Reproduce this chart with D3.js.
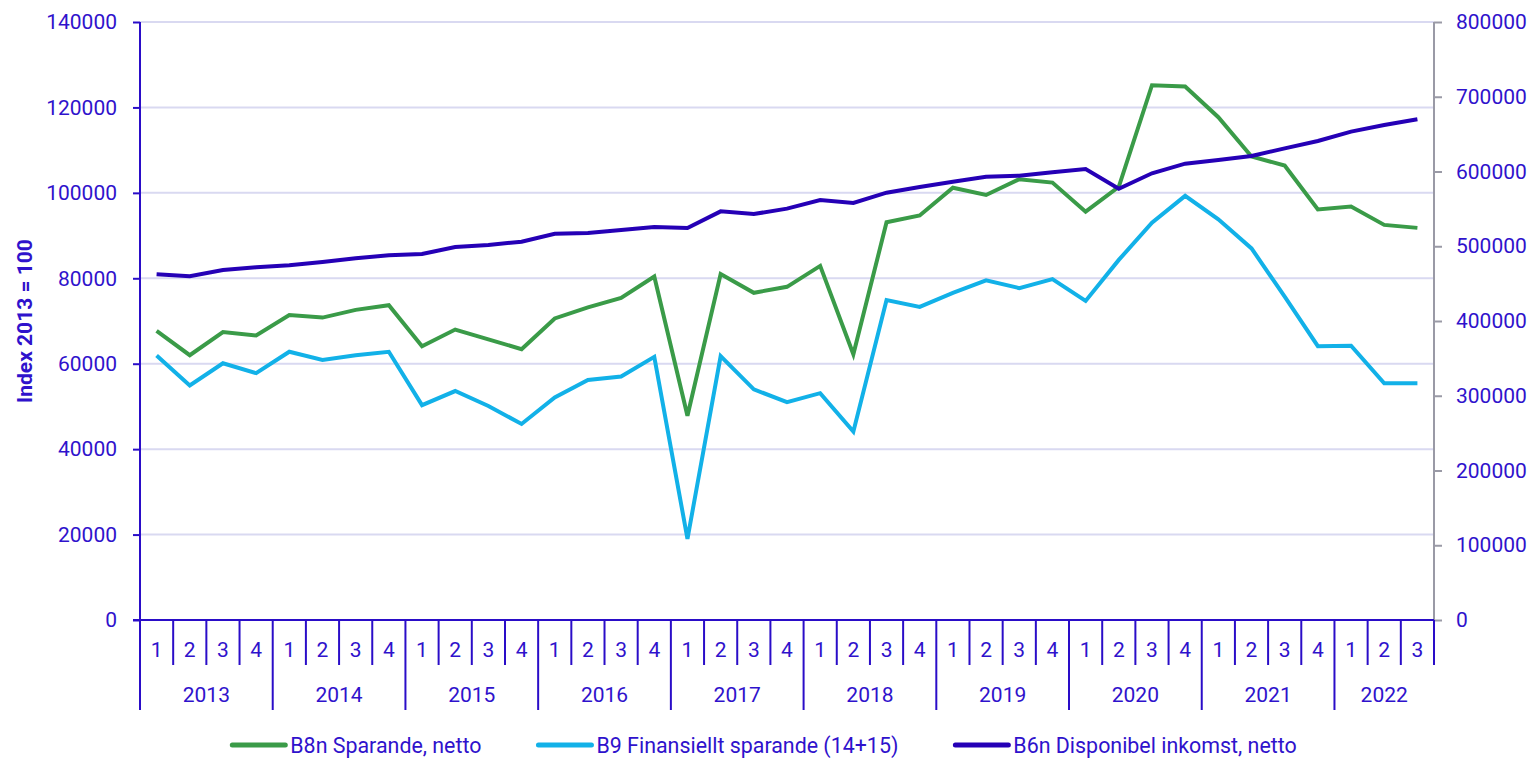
<!DOCTYPE html>
<html>
<head>
<meta charset="utf-8">
<script src="https://cdn.jsdelivr.net/npm/d3@7"></script>
<style>
  html, body { margin: 0; padding: 0; background: #ffffff; }
  svg { display: block; font-family: Roboto, "Noto Sans", sans-serif; }
</style>
</head>
<body>
<svg id="chart" width="1535" height="758"></svg>
<script>
// ---- data ----
const years = ["2013", "2014", "2015", "2016", "2017", "2018", "2019", "2020", "2021", "2022"];
const quarters = ["1", "2", "3", "4"];
const periods = [];
years.forEach(y => quarters.forEach(q => { if (!(y === "2022" && q === "4")) periods.push(y + "K" + q); }));

const seriesNames = ["B8n Sparande, netto", "B9 Finansiellt sparande (14+15)", "B6n Disponibel inkomst, netto"];

const b8nSparande = [67700, 62000, 67400, 66600, 71400, 70800, 72600, 73700,
  64100, 68000, 65700, 63400, 70600, 73200, 75400, 80400,
  47800, 81000, 76600, 78000, 82900, 62200, 93100, 94700,
  101200, 99500, 103200, 102400, 95600, 101400, 125200, 124900,
  117700, 108500, 106400, 96100, 96800, 92500, 91800];

const b9Finansiellt = [61900, 54900, 60100, 57800, 62800, 60900, 62000, 62800,
  50300, 53600, 50100, 45900, 52100, 56200, 57000, 61600,
  19000, 61800, 54000, 51000, 53100, 44100, 74900, 73300,
  76600, 79500, 77700, 79800, 74700, 84300, 93000, 99300,
  93800, 87000, 75700, 64100, 64200, 55400, 55400];

const b6nDisponibel = [462500, 459800, 468200, 471800, 474500, 478900, 483900, 487900,
  489600, 499000, 501700, 506100, 516800, 517700, 521700, 525800,
  524400, 546700, 543100, 550300, 561900, 557900, 571700, 579300,
  586400, 593000, 594400, 598900, 603300, 577000, 597600, 610500,
  615400, 620700, 631000, 640800, 653300, 662200, 669800];

const leftTicks = [0, 20000, 40000, 60000, 80000, 100000, 120000, 140000];
const rightTicks = [0, 100000, 200000, 300000, 400000, 500000, 600000, 700000, 800000];
const yAxisTitle = "Index 2013 = 100";

// ---- layout ----
const W = 1535, H = 758;
const m = { left: 140, right: 1434, top: 22, bottom: 620 };
const textColor = "#2f12cc";
const axisColor = "#2a0dc8";
const gridColor = "#d9d9f1";
const colors = ["#3a9b48", "#12b1e8", "#2500b6"];
const fontSize = 21;

const svg = d3.select("#chart");

const x = d3.scaleBand().domain(d3.range(periods.length)).range([m.left, m.right]).padding(0);
const bw = x.bandwidth();
const cx = i => x(i) + bw / 2;
const yL = d3.scaleLinear().domain([0, 140000]).range([m.bottom, m.top]);
const yR = d3.scaleLinear().domain([0, 800000]).range([m.bottom, m.top]);

// gridlines (left axis ticks)
svg.append("g")
  .selectAll("line")
  .data(leftTicks.filter(d => d > 0))
  .join("line")
  .attr("x1", m.left).attr("x2", m.right)
  .attr("y1", d => yL(d)).attr("y2", d => yL(d))
  .attr("stroke", gridColor).attr("stroke-width", 2);

// left axis
const gL = svg.append("g").attr("transform", `translate(${m.left},0)`)
  .call(d3.axisLeft(yL).tickValues(leftTicks).tickSize(7).tickPadding(16).tickFormat(d3.format("d")));
gL.select(".domain").attr("stroke", axisColor).attr("stroke-width", 2).attr("d", `M0,${m.top}V${m.bottom}`);
gL.selectAll(".tick line").attr("stroke", axisColor).attr("stroke-width", 2);
gL.selectAll(".tick text").attr("fill", textColor).style("font-size", fontSize + "px")
  .style("font-family", "Roboto");

// right axis
const gR = svg.append("g").attr("transform", `translate(${m.right},0)`)
  .call(d3.axisRight(yR).tickValues(rightTicks).tickSize(8).tickPadding(14).tickFormat(d3.format("d")));
gR.select(".domain").attr("stroke", "#9a9aa6").attr("stroke-width", 2).attr("d", `M0,${m.top}V${m.bottom}`);
gR.selectAll(".tick line").attr("stroke", "#9a9aa6").attr("stroke-width", 2);
gR.selectAll(".tick text").attr("fill", textColor).style("font-size", fontSize + "px")
  .style("font-family", "Roboto");

// y-axis title
svg.append("text")
  .attr("transform", `translate(25,${(m.top + m.bottom) / 2}) rotate(-90)`)
  .attr("text-anchor", "middle").attr("dominant-baseline", "central")
  .attr("fill", textColor).style("font-size", fontSize + "px").style("font-weight", "bold")
  .text(yAxisTitle);

// x axis: baseline
svg.append("line")
  .attr("x1", m.left - 7).attr("x2", m.right)
  .attr("y1", m.bottom).attr("y2", m.bottom)
  .attr("stroke", axisColor).attr("stroke-width", 2);

// separators
const bounds = d3.range(periods.length + 1);
svg.append("g").selectAll("line").data(bounds).join("line")
  .attr("x1", i => i < periods.length ? x(i) : m.right)
  .attr("x2", i => i < periods.length ? x(i) : m.right)
  .attr("y1", m.bottom)
  .attr("y2", i => (i % 4 === 0 && i < periods.length) ? 710 : 665)
  .attr("stroke", axisColor).attr("stroke-width", 2);

// quarter labels
svg.append("g").selectAll("text").data(periods).join("text")
  .attr("x", (d, i) => cx(i)).attr("y", 650)
  .attr("text-anchor", "middle").attr("dominant-baseline", "central")
  .attr("fill", textColor).style("font-size", fontSize + "px")
  .text(d => d.split("K")[1]);

// year labels
svg.append("g").selectAll("text").data(years).join("text")
  .attr("x", d => {
    const idx = periods.map((p, i) => [p, i]).filter(([p]) => p.startsWith(d)).map(([, i]) => i);
    return (x(idx[0]) + x(idx[idx.length - 1]) + bw) / 2;
  })
  .attr("y", 695)
  .attr("text-anchor", "middle").attr("dominant-baseline", "central")
  .attr("fill", textColor).style("font-size", fontSize + "px")
  .text(d => d);

// lines
const lineL = d3.line().x((d, i) => cx(i)).y(d => yL(d));
const lineR = d3.line().x((d, i) => cx(i)).y(d => yR(d));
const seriesDefs = [
  { data: b8nSparande, gen: lineL, color: colors[0] },
  { data: b9Finansiellt, gen: lineL, color: colors[1] },
  { data: b6nDisponibel, gen: lineR, color: colors[2] }
];
svg.append("g").selectAll("path").data(seriesDefs).join("path")
  .attr("d", s => s.gen(s.data))
  .attr("fill", "none").attr("stroke", s => s.color)
  .attr("stroke-width", 4).attr("stroke-linejoin", "miter");

// legend
const lg = svg.append("g");
const items = lg.selectAll("g").data(seriesNames).join("g");
items.append("line").attr("x1", 0).attr("x2", 53).attr("y1", 0).attr("y2", 0)
  .attr("stroke", (d, i) => colors[i]).attr("stroke-width", 5).attr("stroke-linecap", "round");
items.append("text").attr("x", 58).attr("y", 0).attr("dominant-baseline", "central")
  .attr("fill", textColor).style("font-size", "21.4px").text(d => d);
let xpos = 0;
const gap = 57;
items.each(function () {
  const w = 58 + d3.select(this).select("text").node().getComputedTextLength();
  d3.select(this).attr("transform", `translate(${xpos},0)`);
  xpos += w + gap;
});
const totalW = xpos - gap;
lg.attr("transform", `translate(${764.5 - totalW / 2},745)`);
</script>
</body>
</html>
